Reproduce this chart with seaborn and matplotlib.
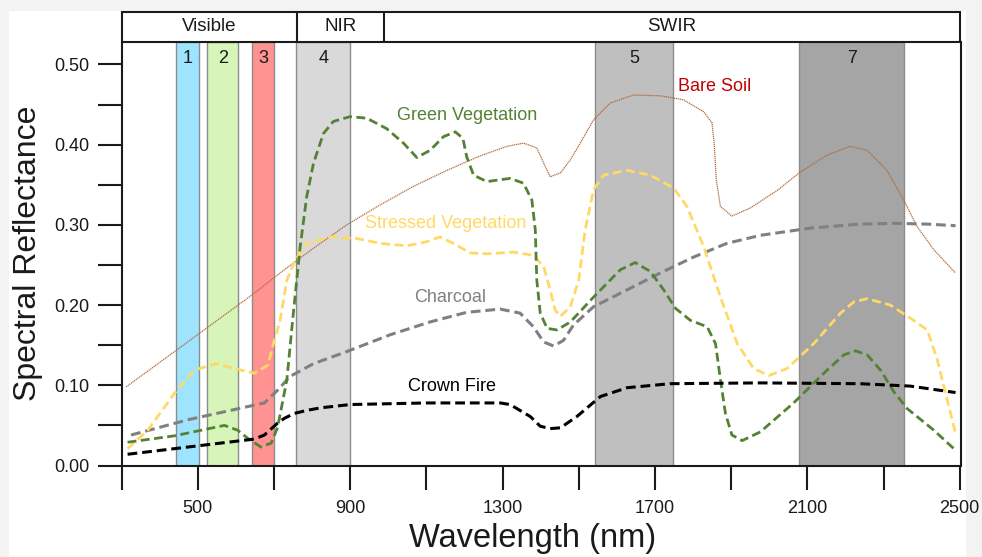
import matplotlib
matplotlib.use("Agg")
import matplotlib.pyplot as plt
import matplotlib.transforms as mtransforms
from matplotlib.patches import Rectangle
import seaborn as sns
import pandas as pd

# ---------------- data ----------------
green_wl = [316, 439, 570, 605, 631, 666, 693, 710, 734, 751, 769, 786, 804, 830, 856, 900, 944, 996,
            1040, 1075, 1110, 1145, 1176, 1196, 1206, 1224, 1259, 1320, 1355, 1377, 1386, 1390, 1399,
            1417, 1443, 1478, 1539, 1609, 1648, 1688, 1723, 1754, 1793, 1837, 1859, 1872, 1885, 1902,
            1929, 1977, 2064, 2152, 2196, 2226, 2257, 2292, 2327, 2362, 2432, 2489]
green_r = [0.029, 0.037, 0.050, 0.044, 0.034, 0.023, 0.028, 0.048, 0.107, 0.190, 0.273, 0.335, 0.377,
           0.414, 0.429, 0.435, 0.433, 0.420, 0.402, 0.384, 0.393, 0.410, 0.416, 0.408, 0.385, 0.362,
           0.354, 0.358, 0.352, 0.331, 0.294, 0.231, 0.190, 0.171, 0.169, 0.179, 0.210, 0.244, 0.253,
           0.242, 0.219, 0.196, 0.181, 0.173, 0.152, 0.107, 0.065, 0.038, 0.031, 0.042, 0.078, 0.119,
           0.138, 0.143, 0.138, 0.119, 0.092, 0.071, 0.044, 0.019]

stressed_wl = [316, 369, 439, 491, 548, 596, 649, 684, 701, 716, 734, 756, 786, 848, 918, 979, 1049, 1101,
               1136, 1171, 1215, 1259, 1329, 1381, 1408, 1425, 1438, 1452, 1478, 1500, 1517, 1539, 1565,
               1627, 1688, 1749, 1784, 1828, 1872, 1916, 1959, 1999, 2047, 2117, 2187, 2222, 2257, 2318,
               2379, 2415, 2441, 2467, 2489]
stressed_r = [0.021, 0.044, 0.090, 0.119, 0.127, 0.121, 0.115, 0.125, 0.156, 0.180, 0.231, 0.256, 0.277,
              0.285, 0.283, 0.277, 0.274, 0.279, 0.285, 0.277, 0.265, 0.264, 0.266, 0.262, 0.248, 0.219,
              0.194, 0.186, 0.198, 0.231, 0.294, 0.344, 0.362, 0.368, 0.362, 0.346, 0.323, 0.273, 0.210,
              0.152, 0.121, 0.112, 0.121, 0.152, 0.190, 0.204, 0.208, 0.200, 0.181, 0.169, 0.132, 0.082,
              0.040]

charcoal_wl = [325, 474, 675, 710, 742, 804, 891, 1005, 1110, 1206, 1294, 1346, 1381, 1408, 1434, 1460,
               1486, 1539, 1627, 1714, 1802, 1889, 1977, 2108, 2239, 2327, 2415, 2489]
charcoal_r = [0.038, 0.057, 0.078, 0.094, 0.111, 0.127, 0.142, 0.163, 0.179, 0.191, 0.195, 0.190, 0.173,
              0.154, 0.149, 0.156, 0.175, 0.198, 0.219, 0.240, 0.260, 0.277, 0.287, 0.296, 0.301, 0.302,
              0.301, 0.299]

crown_wl = [316, 474, 649, 675, 710, 728, 754, 789, 824, 900, 1100, 1294, 1320, 1373, 1399, 1425, 1452,
            1495, 1557, 1627, 1740, 1977, 2239, 2370, 2489]
crown_r = [0.014, 0.023, 0.033, 0.038, 0.053, 0.059, 0.065, 0.069, 0.072, 0.076, 0.078, 0.078, 0.076,
           0.061, 0.049, 0.046, 0.047, 0.061, 0.086, 0.097, 0.102, 0.103, 0.102, 0.099, 0.091]

soil_wl = [312, 439, 649, 716, 804, 891, 979, 1066, 1154, 1241, 1312, 1355, 1390, 1408, 1425, 1452, 1478,
           1504, 1539, 1583, 1644, 1714, 1775, 1828, 1850, 1856, 1861, 1872, 1902, 1950, 2021, 2082, 2152,
           2213, 2257, 2309, 2353, 2388, 2432, 2489]
soil_r = [0.098, 0.142, 0.215, 0.240, 0.271, 0.300, 0.325, 0.348, 0.368, 0.386, 0.398, 0.402, 0.396, 0.377,
          0.360, 0.365, 0.381, 0.402, 0.431, 0.452, 0.462, 0.461, 0.456, 0.441, 0.427, 0.398, 0.356, 0.323,
          0.311, 0.321, 0.343, 0.366, 0.387, 0.398, 0.393, 0.368, 0.331, 0.298, 0.269, 0.240]

band_names = ["1", "2", "3", "4", "5", "7"]
band_start = [442, 525, 643, 759, 1542, 2079]
band_end = [504, 606, 699, 901, 1748, 2355]
band_colors = ["#9EE4FF", "#D7F4B9", "#FF9391", "#D9D9D9", "#BFBFBF", "#A5A5A5"]

region_names = ["Visible", "NIR", "SWIR"]
region_edges = [300, 760, 990, 2500]

xticks_labeled = [500, 900, 1300, 1700, 2100, 2500]
xticks_minor = [300, 700, 1100, 1500, 1900, 2300]
yticks_labeled = [0.0, 0.1, 0.2, 0.3, 0.4, 0.5]
yticks_minor = [0.05, 0.15, 0.25, 0.35, 0.45]

curve_labels = ["Green Vegetation", "Bare Soil", "Stressed Vegetation", "Charcoal", "Crown Fire"]
label_x = [1207, 1858, 1152, 1162, 1168]
label_y = [0.436, 0.473, 0.302, 0.210, 0.098]
label_colors = ["#548235", "#C00000", "#FFD966", "#808080", "#000000"]

# ---------------- style ----------------
sns.set_theme(style="white")
plt.rcParams["font.family"] = ["Liberation Sans", "DejaVu Sans"]

W, H = 982, 557
fig = plt.figure(figsize=(W / 100, H / 100), dpi=100, facecolor="#F3F3F3")
fig.patches.append(Rectangle((9 / W, 0), (966 - 9) / W, 1 - 11 / H, transform=fig.transFigure,
                             facecolor="white", edgecolor="none", zorder=-10))

left, right, top, bottom = 121.5, 960.5, 42, 465.5
ax = fig.add_axes([left / W, 1 - bottom / H, (right - left) / W, (bottom - top) / H])
ax.set_zorder(1)
ax.set_facecolor("none")
ax.set_xlim(300, 2502)
ax.set_ylim(0, (bottom - top) / 802.0)

btrans = mtransforms.blended_transform_factory(ax.transData, ax.transAxes)

# bands
for name, s, e, c in zip(band_names, band_start, band_end, band_colors):
    ax.axvspan(s, e, facecolor=c, edgecolor="#8C8C8C", linewidth=1.0, zorder=0.5)
    ax.text((s + e) / 2, 0.962, name, transform=btrans,
            ha="center", va="center", fontsize=13, color="#1a1a1a")

# curves
series = [
    (soil_wl, soil_r, "#B06A3B", (0, (1, 0.6)), 0.9),
    (charcoal_wl, charcoal_r, "#808080", (0, (3.2, 1.6)), 2.2),
    (stressed_wl, stressed_r, "#FFD966", (0, (3.2, 1.6)), 2.0),
    (green_wl, green_r, "#548235", (0, (3.2, 1.6)), 2.0),
    (crown_wl, crown_r, "#000000", (0, (3.2, 1.6)), 2.2),
]
for wl, r, col, ls, lw in series:
    df = pd.DataFrame({"wl": wl, "r": r})
    sns.lineplot(data=df, x="wl", y="r", ax=ax, color=col, linewidth=lw, estimator=None, zorder=3)
    ln = ax.lines[-1]
    ln.set_linestyle(ls)
    ln.set_dash_joinstyle("round")
    ln.set_solid_joinstyle("round")

for txt, x, y, c in zip(curve_labels, label_x, label_y, label_colors):
    ax.text(x, y, txt, ha="center", va="center", fontsize=13, color=c, zorder=4)

# header box
hdr_h = 30 / (bottom - top)
ax.add_patch(Rectangle((region_edges[0], 1.0), region_edges[-1] - region_edges[0] + 2, hdr_h,
                       transform=btrans, facecolor="white", edgecolor="#1a1a1a", linewidth=1.5,
                       clip_on=False, zorder=5))
for e in region_edges[1:-1]:
    ax.plot([e, e], [1.0, 1.0 + hdr_h], transform=btrans, color="#1a1a1a", linewidth=1.5,
            clip_on=False, zorder=6)
for i, name in enumerate(region_names):
    ax.text((region_edges[i] + region_edges[i + 1]) / 2, 1.0 + hdr_h / 2, name, transform=btrans,
            ha="center", va="center", fontsize=13.5, color="#1a1a1a", zorder=7)

# axes styling
for sp in ["left", "bottom", "right"]:
    ax.spines[sp].set_visible(True)
    ax.spines[sp].set_color("#1a1a1a")
    ax.spines[sp].set_linewidth(1.5)
ax.spines["top"].set_visible(False)

ax.set_xticks(xticks_labeled)
ax.set_xticklabels([str(v) for v in xticks_labeled])
ax.set_xticks(xticks_minor, minor=True)
ax.set_yticks(yticks_labeled)
ax.set_yticklabels([f"{v:.2f}" for v in yticks_labeled])
ax.set_yticks(yticks_minor, minor=True)
ax.tick_params(axis="both", which="both", direction="out", length=17, width=1.5, color="#1a1a1a",
               labelsize=13, labelcolor="#1a1a1a")
ax.tick_params(axis="x", which="both", pad=8, bottom=True)
ax.tick_params(axis="y", which="both", pad=6, left=True)

ax.set_xlabel("Wavelength (nm)", fontsize=23.5, color="#1a1a1a", labelpad=4)
ax.xaxis.label.set_x(0.4905)
ax.set_ylabel("Spectral Reflectance", fontsize=23, color="#1a1a1a", labelpad=8)
ax.grid(False)

fig.savefig("out.png", dpi=100, facecolor=fig.get_facecolor())
